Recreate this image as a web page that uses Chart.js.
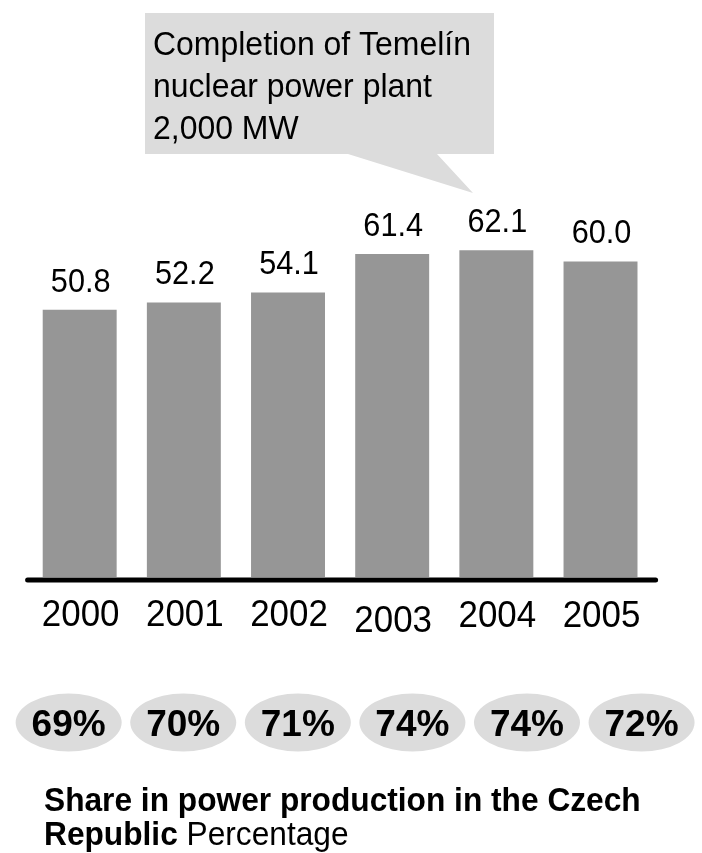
<!DOCTYPE html>
<html><head><meta charset="utf-8">
<script src="https://cdn.jsdelivr.net/npm/chart.js@4"></script>
<style>html,body{margin:0;padding:0;background:#fff}canvas{display:block}</style>
</head><body>
<canvas id="c" width="702" height="853"></canvas>
<script>
// ---- data ----
const years = ['2000', '2001', '2002', '2003', '2004', '2005'];
const production = [50.8, 52.2, 54.1, 61.4, 62.1, 60.0];
const valueLabels = ['50.8', '52.2', '54.1', '61.4', '62.1', '60.0'];
const shares = ['69%', '70%', '71%', '74%', '74%', '72%'];
const calloutLines = ['Completion of Temelín', 'nuclear power plant', '2,000 MW'];
const titleBold = 'Share in power production in the Czech';
const titleBold2 = 'Republic';
const titleRest = ' Percentage';

// ---- style ----
const FONT = '"Liberation Sans", Arial, sans-serif';
const BAR = '#969696';
const LIGHT = '#dcdcdc';
const yearDy = [0, 0, 0, 6, 1, 1];

function txt(ctx, s, x, y, font, sx, align, baseline) {
  ctx.save();
  ctx.font = font;
  ctx.textAlign = align || 'center';
  ctx.textBaseline = baseline || 'alphabetic';
  ctx.translate(x, y);
  ctx.scale(sx, 1);
  ctx.fillText(s, 0, 0);
  const w = ctx.measureText(s).width * sx;
  ctx.restore();
  return w;
}

const overlay = {
  id: 'overlay',
  afterDatasetsDraw(chart) {
    const ctx = chart.ctx;
    const area = chart.chartArea;
    const xs = chart.scales.x;
    const meta = chart.getDatasetMeta(0);
    ctx.save();

    // axis line
    ctx.strokeStyle = '#000';
    ctx.lineWidth = 5;
    ctx.lineCap = 'round';
    ctx.beginPath();
    ctx.moveTo(area.left, area.bottom + 3);
    ctx.lineTo(area.right + 3, area.bottom + 3);
    ctx.stroke();

    ctx.fillStyle = '#000';
    // value labels
    meta.data.forEach((el, i) => {
      txt(ctx, valueLabels[i], el.x + 1, el.y - 18, '33px ' + FONT, 0.93);
    });

    // year labels
    years.forEach((y, i) => {
      txt(ctx, y, xs.getPixelForValue(i) + 1, 626 + yearDy[i], '36px ' + FONT, 0.97);
    });

    // share ellipses
    shares.forEach((s, i) => {
      const cx = xs.getPixelForValue(i) * 1.1 - 19;
      ctx.fillStyle = LIGHT;
      ctx.beginPath();
      ctx.ellipse(cx, 722.5, 53, 29, 0, 0, Math.PI * 2);
      ctx.fill();
      ctx.fillStyle = '#000';
      txt(ctx, s, cx, 736, 'bold 37px ' + FONT, 1);
    });

    // callout
    ctx.fillStyle = LIGHT;
    ctx.beginPath();
    ctx.moveTo(145, 13);
    ctx.lineTo(494, 13);
    ctx.lineTo(494, 154);
    ctx.lineTo(437, 154);
    ctx.lineTo(473, 193);
    ctx.lineTo(348, 154);
    ctx.lineTo(145, 154);
    ctx.closePath();
    ctx.fill();
    ctx.fillStyle = '#000';
    calloutLines.forEach((t, i) => txt(ctx, t, 153, 55 + i * 42, '34px ' + FONT, 0.94, 'left'));

    // title
    txt(ctx, titleBold, 44, 811, 'bold 33px ' + FONT, 0.96, 'left');
    const w = txt(ctx, titleBold2, 44, 845, 'bold 33px ' + FONT, 0.96, 'left');
    txt(ctx, titleRest, 44 + w, 845, '33px ' + FONT, 0.96, 'left');

    ctx.restore();
  }
};

new Chart(document.getElementById('c'), {
  type: 'bar',
  data: {
    labels: years,
    datasets: [{
      data: production,
      backgroundColor: BAR,
      borderWidth: 0,
      barPercentage: 0.71,
      categoryPercentage: 1
    }]
  },
  options: {
    responsive: false,
    devicePixelRatio: 1,
    animation: false,
    layout: { padding: { left: 27.6, right: 49.4, top: 51, bottom: 276 } },
    plugins: { legend: { display: false }, tooltip: { enabled: false } },
    scales: {
      x: { display: false },
      y: { display: false, min: 0, max: 100 }
    }
  },
  plugins: [overlay]
});
</script>
</body></html>
